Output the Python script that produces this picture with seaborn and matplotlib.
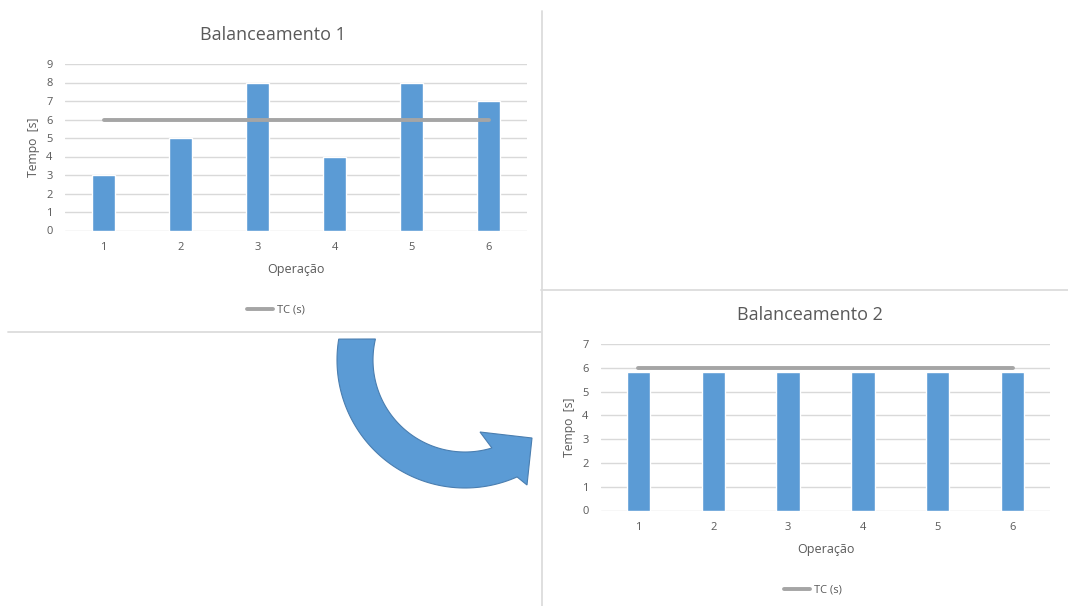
import numpy as np
import pandas as pd
import seaborn as sns
import matplotlib.pyplot as plt
from matplotlib.patches import Polygon
from matplotlib.lines import Line2D

# Data
operacoes = ["1", "2", "3", "4", "5", "6"]
tempos_bal1 = [3, 5, 8, 4, 8, 7]
tempos_bal2 = [5.83, 5.83, 5.83, 5.83, 5.83, 5.83]
tc_bal1 = [6, 6, 6, 6, 6, 6]
tc_bal2 = [6, 6, 6, 6, 6, 6]
yticks_bal1 = list(range(0, 10))
yticks_bal2 = list(range(0, 8))

BAR = "#5B9BD5"
LINE = "#A5A5A5"
TXT = "#595959"
GRID = "#D9D9D9"
SEP = "#DCDCDC"

sns.set_theme(style="white")
plt.rcParams["font.family"] = ["Open Sans", "DejaVu Sans"]

W, H = 1068, 606
fig = plt.figure(figsize=(W / 100, H / 100), dpi=100)
fig.patch.set_facecolor("white")


def px_axes(x0, x1, ytop, ybot):
    return fig.add_axes([x0 / W, 1 - ybot / H, (x1 - x0) / W, (ybot - ytop) / H])


def fx(x):
    return x / W


def fy(y):
    return 1 - y / H


def draw_chart(ax, values, tc, yticks, title, title_xy, xlabel_y, ylabel_x, legend_xy):
    df = pd.DataFrame({"Operação": operacoes, "Tempo": values})
    sns.barplot(data=df, x="Operação", y="Tempo", color=BAR, width=0.31,
                saturation=1, ax=ax, zorder=2)
    sns.lineplot(x=np.arange(len(tc)), y=tc, color=LINE, linewidth=2.8,
                 ax=ax, zorder=3, label="TC (s)", legend=False)
    ax.set_xlim(-0.5, len(operacoes) - 0.5)
    ax.set_ylim(yticks[0], yticks[-1])
    ax.set_yticks(yticks)
    ax.grid(axis="y", color=GRID, linewidth=1.0, zorder=0)
    ax.grid(axis="x", visible=False)
    for s in ax.spines.values():
        s.set_visible(False)
    ax.tick_params(axis="both", length=0, labelsize=8, colors=TXT)
    ax.tick_params(axis="y", pad=9)
    ax.tick_params(axis="x", pad=8)
    ax.set_xlabel("")
    ax.set_ylabel("")
    fig.text(fx(title_xy[0]), fy(title_xy[1]), title, ha="center", va="center",
             fontsize=13, color=TXT)
    p = ax.get_position()
    fig.text((p.x0 + p.x1) / 2, fy(xlabel_y), "Operação", ha="center", va="center",
             fontsize=9, color=TXT)
    fig.text(fx(ylabel_x), (p.y0 + p.y1) / 2, "Tempo  [s]", ha="center", va="center",
             rotation=90, fontsize=8.7, color=TXT)
    handle = Line2D([], [], color=LINE, linewidth=2.8)
    fig.legend([handle], ["TC (s)"], loc="center", bbox_to_anchor=(fx(legend_xy[0]), fy(legend_xy[1])),
               frameon=False, fontsize=8, labelcolor=TXT, handlelength=2.4,
               handletextpad=0.35)


ax1 = px_axes(65, 527, 64, 230.5)
draw_chart(ax1, tempos_bal1, tc_bal1, yticks_bal1, "Balanceamento 1", (273, 35),
           270, 34, (276, 310))

ax2 = px_axes(601, 1050, 344, 510.5)
draw_chart(ax2, tempos_bal2, tc_bal2, yticks_bal2, "Balanceamento 2", (810, 315),
           550, 569, (813, 590))

# Panel separators
for xs, ys in [((8, 541), (331.5, 331.5)), ((541.5, 541.5), (11, 606)),
               ((541, 1068), (289.5, 289.5))]:
    fig.add_artist(Line2D([fx(v) for v in xs], [fy(v) for v in ys],
                          color=SEP, linewidth=1.3))

# Curved arrow between the panels
cx, cy = 465, 360
r_out, r_in = 128, 92
t_out = np.radians(np.linspace(170.6, 294, 80))
t_in = np.radians(np.linspace(287, 166.8, 80))
outer = [(cx + r_out * np.cos(t), cy - r_out * np.sin(t)) for t in t_out]
inner = [(cx + r_in * np.cos(t), cy - r_in * np.sin(t)) for t in t_in]
head = [(527, 485), (532, 438), (480, 432)]
pts = outer + head + inner
pts = [(fx(x), fy(y)) for x, y in pts]
fig.add_artist(Polygon(pts, closed=True, facecolor=BAR, edgecolor="#4A7EB0",
                       linewidth=0.8, transform=fig.transFigure))

fig.savefig("out.png", dpi=100, facecolor="white")
